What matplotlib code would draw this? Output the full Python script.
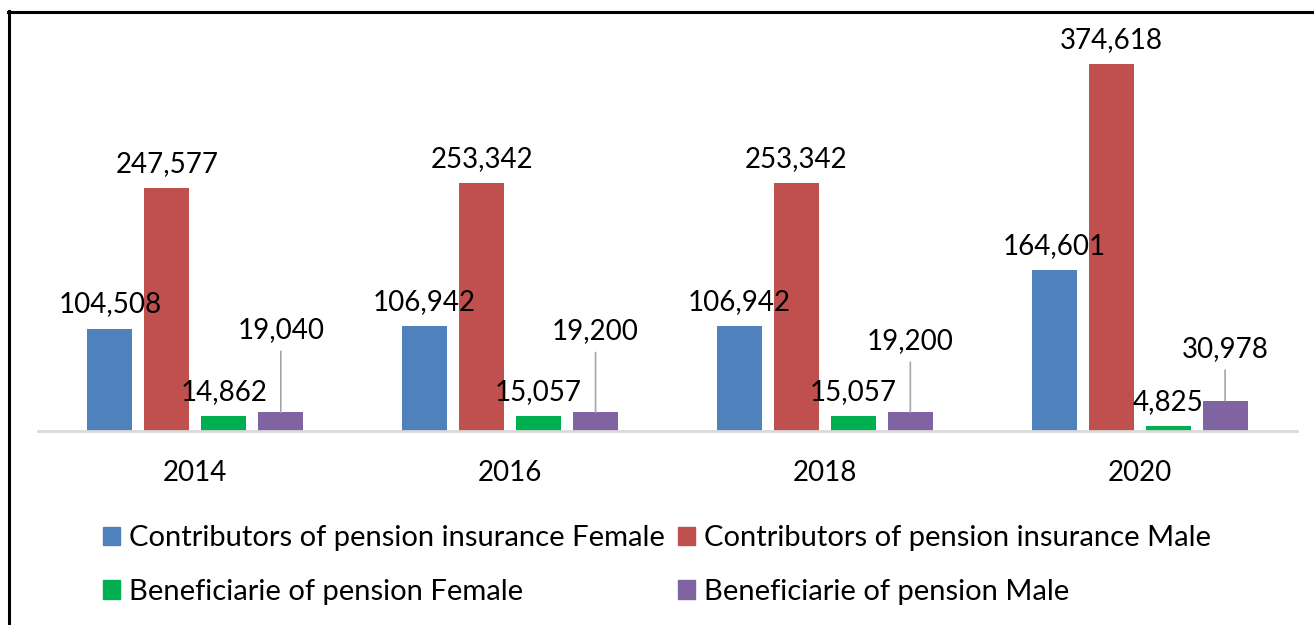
import matplotlib
matplotlib.use("Agg")
import numpy as np
import matplotlib.pyplot as plt
from matplotlib.lines import Line2D
from matplotlib.patches import Patch

years = ["2014", "2016", "2018", "2020"]
series_names = [
    "Contributors of pension insurance Female",
    "Contributors of pension insurance Male",
    "Beneficiarie of pension Female",
    "Beneficiarie of pension Male",
]
contrib_female = [104508, 106942, 106942, 164601]
contrib_male = [247577, 253342, 253342, 374618]
benef_female = [14862, 15057, 15057, 4825]
benef_male = [19040, 19200, 19200, 30978]
colors = ["#4f81bd", "#c0504d", "#00b050", "#8064a2"]

# purple labels sit higher, with a leader line (offset in points)
male_label_lift = [44, 43, 36, 22]

plt.rcParams['font.family'] = ['Lato', 'DejaVu Sans']

fig = plt.figure(figsize=(13.14, 6.25), dpi=100)
W, H = 1314, 625
ax = fig.add_axes([38 / W, 1 - 431 / H, (1297 - 38) / W, (431 - 20) / H])

x = np.arange(len(years))
width = 0.143
pitch = 0.181
all_series = [contrib_female, contrib_male, benef_female, benef_male]
for i, vals in enumerate(all_series):
    pos = x + (i - 1.5) * pitch
    ax.bar(pos, vals, width=width, color=colors[i], zorder=2)
    for j, (px, v) in enumerate(zip(pos, vals)):
        lab = f"{v:,}"
        if i == 3:
            ax.annotate(lab, (px, v), xytext=(0, male_label_lift[j] + 6),
                        textcoords="offset points", ha="center", va="bottom",
                        fontsize=20, clip_on=False, zorder=3)
            ax.annotate("", (px, v), xytext=(0, male_label_lift[j]),
                        textcoords="offset points",
                        arrowprops=dict(arrowstyle="-", color="#a6a6a6", lw=1.2,
                                        shrinkA=0, shrinkB=0))
        else:
            ax.annotate(lab, (px, v), xytext=(0, 8), textcoords="offset points",
                        ha="center", va="bottom", fontsize=20, clip_on=False, zorder=3)

ax.set_xlim(-0.5, 3.5)
ax.set_ylim(0, 374618 * (431 - 20) / 367)
ax.set_xticks(x)
ax.set_xticklabels(years, fontsize=20)
ax.tick_params(axis="x", length=0, pad=21)
ax.set_yticks([])
for s in ["top", "right", "left"]:
    ax.spines[s].set_visible(False)
ax.spines["bottom"].set_color("#d9d9d9")
ax.spines["bottom"].set_linewidth(2)

handles = [Patch(color=colors[k]) for k in [0, 2, 1, 3]]
labels = [series_names[k] for k in [0, 2, 1, 3]]
fig.legend(handles, labels, ncol=2, loc="center", bbox_to_anchor=(0.5, 1 - 565 / H),
           frameon=False, fontsize=21, handlelength=0.6, handleheight=0.6,
           handletextpad=0.3, columnspacing=0.45, labelspacing=0.95)

# outer frame
fig.add_artist(Line2D([8.5 / W, 8.5 / W], [0, 1 - 11 / H], color="black", lw=2.2))
fig.add_artist(Line2D([7.5 / W, 1], [1 - 11.5 / H, 1 - 11.5 / H], color="black", lw=2.2))

fig.savefig("out.png", dpi=100)
